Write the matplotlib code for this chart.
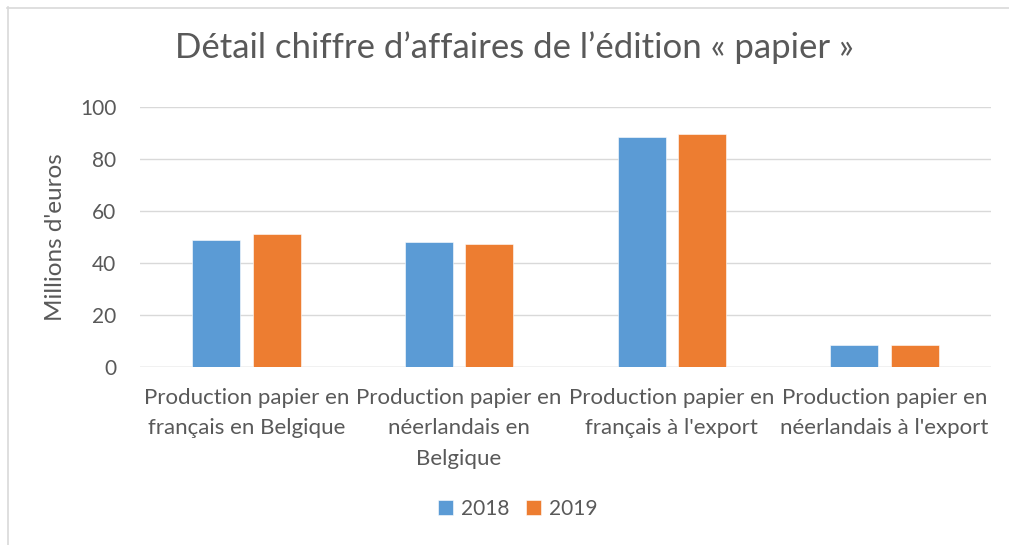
import matplotlib
matplotlib.use("Agg")
import matplotlib.pyplot as plt
import numpy as np
from matplotlib.lines import Line2D

categories = [
    "Production papier en\nfrançais en Belgique",
    "Production papier en\nnéerlandais en\nBelgique",
    "Production papier en\nfrançais à l'export",
    "Production papier en\nnéerlandais à l'export",
]
series_names = ["2018", "2019"]
values_2018 = [49.0, 48.2, 88.3, 8.6]
values_2019 = [51.2, 47.2, 89.6, 8.6]
yticks = [0, 20, 40, 60, 80, 100]

plt.rcParams['font.family'] = ['Lato', 'DejaVu Sans']
text_color = "#595959"
blue = "#5B9BD5"
orange = "#ED7D31"

W, H = 1009, 545
fig = plt.figure(figsize=(W / 100, H / 100), dpi=100)
ax = fig.add_axes([140 / W, 1 - 367 / H, (991 - 140) / W, (367 - 107) / H])

x = np.arange(len(categories))
bw = 0.225
off = 0.142
ax.bar(x - off, values_2018, bw, color=blue, edgecolor="white", linewidth=0.4, zorder=3, label=series_names[0])
ax.bar(x + off, values_2019, bw, color=orange, edgecolor="white", linewidth=0.4, zorder=3, label=series_names[1])

ax.set_xlim(-0.5, len(categories) - 0.5)
ax.set_ylim(0, 100)
ax.set_yticks(yticks)
ax.set_yticklabels([str(t) for t in yticks])
ax.set_xticks(x)
ax.set_xticklabels(categories, linespacing=1.65)
ax.tick_params(axis='x', length=0, pad=15, labelsize=16, colors=text_color)
ax.tick_params(axis='y', length=0, pad=17, labelsize=15, colors=text_color)
ax.yaxis.grid(True, color="#d9d9d9", linewidth=1.0, zorder=0)
ax.set_axisbelow(True)
for s in ax.spines.values():
    s.set_visible(False)
ax.axhline(0, color="#d9d9d9", linewidth=1.0, zorder=1)

ax.set_ylabel("Millions d'euros", fontsize=17.5, color=text_color, labelpad=10)

fig.text(514 / W, 1 - 58 / H, "Détail chiffre d’affaires de l’édition « papier »",
         ha="center", va="baseline", fontsize=25, color=text_color)

leg = fig.legend(loc="center", bbox_to_anchor=(518 / W, 1 - 509 / H), ncol=2,
                 frameon=False, fontsize=15, handlelength=0.7, handleheight=0.7,
                 handletextpad=0.4, columnspacing=0.8)
for t in leg.get_texts():
    t.set_color(text_color)

# chart border (top and left visible)
fig.add_artist(Line2D([7 / W, 1.0], [1 - 7.5 / H, 1 - 7.5 / H], color="#d9d9d9", linewidth=1.2, transform=fig.transFigure))
fig.add_artist(Line2D([7.5 / W, 7.5 / W], [0, 1 - 7 / H], color="#d9d9d9", linewidth=1.2, transform=fig.transFigure))

fig.savefig("out.png", dpi=100)
